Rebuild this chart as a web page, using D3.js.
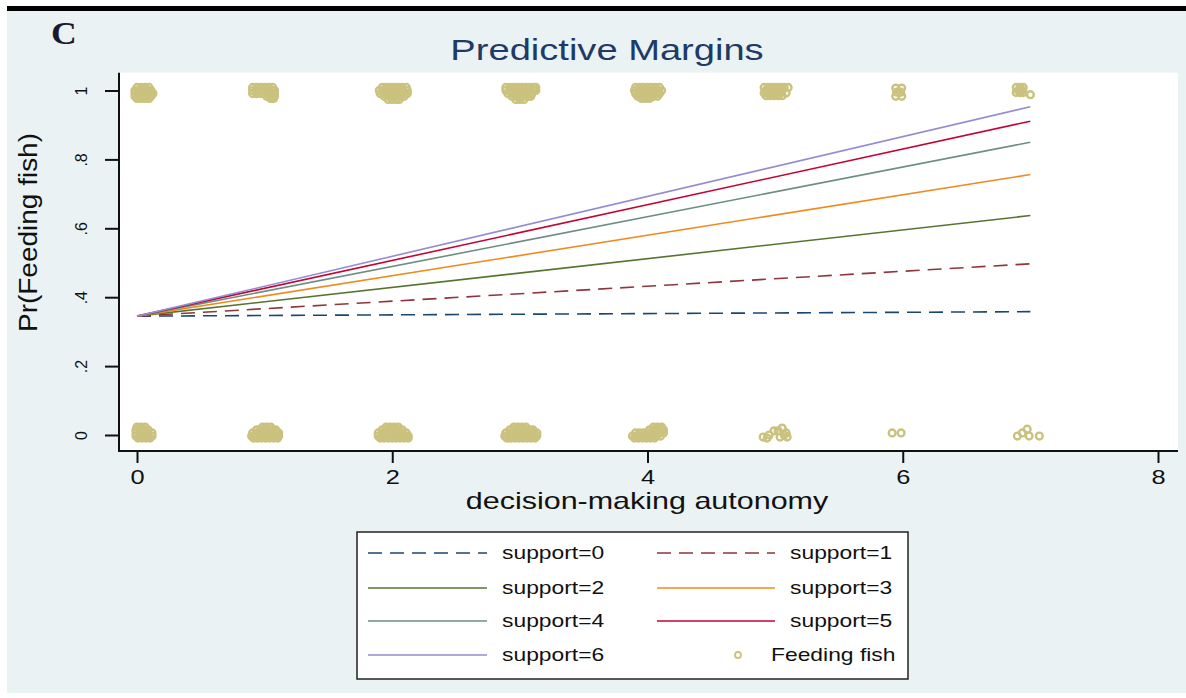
<!DOCTYPE html>
<html>
<head>
<meta charset="utf-8">
<script src="https://cdn.jsdelivr.net/npm/d3@7"></script>
<style>
  body { margin: 0; background: #fff; }
  svg { display: block; }
  text { font-family: "Liberation Sans", Arial, Helvetica, sans-serif; }
</style>
</head>
<body>
<div id="chart"></div>
<script>
// predicted margins, one line per support level, from autonomy 0 to 7
const supportLevels = [0, 1, 2, 3, 4, 5, 6];
const autonomyEnds = [0, 7];
const predAtStart = [0.345, 0.345, 0.345, 0.345, 0.345, 0.345, 0.345];
const predAtEnd = [0.358, 0.497, 0.637, 0.756, 0.850, 0.911, 0.953];

const xTicks = [0, 2, 4, 6, 8];
const yTicks = [0, 0.2, 0.4, 0.6, 0.8, 1];
const yTickLabels = ["0", ".2", ".4", ".6", ".8", "1"];

// jittered observations, rows of [y, x, x, ...]
const feedTopRows = [
  [1.009, 0.0, 0.031, 0.063, 0.094],
  [1.0, -0.016, 0.016, 0.047, 0.078, 0.11],
  [0.991, -0.016, 0.016, 0.047, 0.078, 0.11, 0.125],
  [0.983, -0.016, 0.016, 0.047, 0.078, 0.11],
  [0.977, 0.0, 0.031, 0.063, 0.094],
  [1.009, 0.906, 0.937, 0.969, 1.0, 1.031, 1.063],
  [1.0, 0.906, 0.937, 0.969, 1.0, 1.031, 1.063, 1.078],
  [0.991, 0.906, 0.937, 0.969, 1.0, 1.031, 1.063, 1.078],
  [0.983, 1.016, 1.047, 1.078],
  [0.977, 1.047, 1.07],
  [1.009, 1.922, 1.953, 1.984, 2.016, 2.047, 2.078, 2.11],
  [1.0, 1.898, 1.929, 1.961, 1.992, 2.023, 2.055, 2.086, 2.118],
  [0.991, 1.906, 1.937, 1.969, 2.0, 2.031, 2.063, 2.094, 2.118],
  [0.983, 1.937, 1.969, 2.0, 2.031, 2.063, 2.094],
  [0.974, 1.969, 2.0, 2.031, 2.055],
  [1.009, 2.89, 2.922, 2.953, 2.984, 3.016, 3.047, 3.078, 3.11, 3.125],
  [1.0, 2.89, 2.922, 2.953, 2.984, 3.016, 3.047, 3.078, 3.11, 3.125],
  [0.991, 2.906, 2.937, 2.969, 3.0, 3.031, 3.063, 3.094],
  [0.983, 2.937, 2.969, 3.0, 3.031, 3.063, 3.086],
  [0.974, 2.969, 3.0, 3.031],
  [1.009, 3.906, 3.937, 3.969, 4.0, 4.031, 4.063, 4.094],
  [1.0, 3.898, 3.929, 3.961, 3.992, 4.023, 4.055, 4.086, 4.11],
  [0.991, 3.906, 3.937, 3.969, 4.0, 4.031, 4.063, 4.094],
  [0.983, 3.922, 3.953, 3.984, 4.016, 4.047, 4.078],
  [0.977, 3.953, 3.984, 4.016],
  [1.009, 4.914, 4.945, 4.976, 5.008, 5.039, 5.071, 5.102],
  [1.001, 4.929, 4.961, 4.992, 5.024, 5.055],
  [0.993, 4.914, 4.945, 4.976, 5.008, 5.039, 5.086],
  [0.985, 4.929, 4.961, 4.992, 5.024, 5.055],
  [1.007, 5.945, 5.992],
  [0.995, 5.953, 5.984],
  [0.983, 5.945, 5.992],
  [1.009, 6.889, 6.92, 6.944],
  [1.001, 6.905, 6.932],
  [0.994, 6.889, 6.92, 6.944],
  [0.988, 7.0]
];
const feedBottomRows = [
  [0.023, 0.0, 0.031, 0.063],
  [0.015, -0.008, 0.023, 0.055, 0.086],
  [0.006, -0.008, 0.023, 0.055, 0.086, 0.118],
  [-0.003, -0.008, 0.023, 0.055, 0.086, 0.118],
  [-0.009, 0.008, 0.039, 0.071, 0.102],
  [0.023, 0.984, 1.016, 1.047],
  [0.015, 0.937, 0.969, 1.0, 1.031, 1.063, 1.086],
  [0.006, 0.906, 0.937, 0.969, 1.0, 1.031, 1.063, 1.094, 1.11],
  [-0.003, 0.898, 0.929, 0.961, 0.992, 1.023, 1.055, 1.086, 1.11],
  [-0.009, 0.914, 0.945, 0.976, 1.008, 1.039, 1.071, 1.102],
  [0.023, 1.953, 1.984, 2.016, 2.047],
  [0.015, 1.922, 1.953, 1.984, 2.016, 2.047, 2.078],
  [0.006, 1.89, 1.922, 1.953, 1.984, 2.016, 2.047, 2.078, 2.11],
  [-0.003, 1.89, 1.922, 1.953, 1.984, 2.016, 2.047, 2.078, 2.11, 2.125],
  [-0.009, 1.906, 1.937, 1.969, 2.0, 2.031, 2.063, 2.094, 2.125],
  [0.023, 2.953, 2.984, 3.016, 3.047],
  [0.015, 2.922, 2.953, 2.984, 3.016, 3.047, 3.078, 3.102],
  [0.006, 2.89, 2.922, 2.953, 2.984, 3.016, 3.047, 3.078, 3.11, 3.133],
  [-0.003, 2.882, 2.914, 2.945, 2.976, 3.008, 3.039, 3.071, 3.102, 3.133],
  [-0.009, 2.898, 2.929, 2.961, 2.992, 3.023, 3.055, 3.086, 3.118],
  [0.023, 4.047, 4.078, 4.11],
  [0.015, 4.016, 4.047, 4.078, 4.11, 4.125],
  [0.006, 3.906, 3.937, 3.969, 4.0, 4.031, 4.063, 4.094, 4.125],
  [-0.003, 3.882, 3.914, 3.945, 3.976, 4.008, 4.039, 4.071, 4.102],
  [-0.009, 3.898, 3.929, 3.961, 3.992, 4.023, 4.055],
  [0.02, 5.055],
  [0.012, 4.992, 5.024],
  [0.006, 5.086],
  [0.0, 4.953, 5.071],
  [-0.006, 4.906, 5.039, 5.094],
  [-0.009, 4.937],
  [0.006, 5.917, 5.987],
  [0.017, 6.975],
  [0.006, 6.937],
  [-0.003, 6.898, 6.99, 7.07]
];

// stata s2color-ish styling
const lineColors = ["#1a476f", "#90353b", "#55752f", "#ef8a1f", "#6e8e84", "#c10534", "#938dd2"];
const lineDashes = ["14,8", "14,8", null, null, null, null, null];
const pointColor = "#cac27e";
const bgColor = "#eaf2f3";
const stretch = 1.27; // picture is wider than the fonts

const W = 1186, H = 698;
const plot = { left: 119, right: 1178, top: 72.7, bottom: 451 };

const svg = d3.select("#chart").append("svg")
  .attr("width", W)
  .attr("height", H);

svg.append("rect")
  .attr("x", 7).attr("y", 6)
  .attr("width", W - 7).attr("height", 687)
  .attr("fill", bgColor);
svg.append("rect")
  .attr("x", 7).attr("y", 6)
  .attr("width", W - 7).attr("height", 5)
  .attr("fill", "#000");

svg.append("rect")
  .attr("x", plot.left).attr("y", plot.top)
  .attr("width", plot.right - plot.left)
  .attr("height", plot.bottom - plot.top)
  .attr("fill", "#fff");

const x = d3.scaleLinear().domain([0, 8]).range([137, 1158]);
const y = d3.scaleLinear().domain([0, 1]).range([435, 90.5]);

function addText(str, tx, ty, size, opts = {}) {
  const rot = opts.rotate ? ` rotate(${opts.rotate})` : "";
  const sx = opts.sx == null ? stretch : opts.sx;
  return svg.append("text")
    .attr("transform", `translate(${tx},${ty})${rot} scale(${sx},1)`)
    .attr("text-anchor", opts.anchor || "start")
    .attr("font-size", size)
    .attr("fill", opts.color || "#111")
    .text(str);
}

// panel letter and title
svg.append("text")
  .attr("transform", "translate(51,44) scale(1.15,1)")
  .style("font-family", "'Liberation Serif', 'DejaVu Serif', serif")
  .style("font-weight", "bold")
  .attr("font-size", 31)
  .attr("fill", "#1a1a2e")
  .text("C");
addText("Predictive Margins", 607, 60, 30, { anchor: "middle", color: "#1e3a66" });

// axes
const xAxis = d3.axisBottom(x).tickValues(xTicks).tickSize(12).tickSizeOuter(0);
const gx = svg.append("g").attr("transform", `translate(0,${plot.bottom})`).call(xAxis);
gx.select(".domain").remove();
gx.selectAll(".tick line").attr("stroke", "#111").attr("stroke-width", 2);
gx.selectAll(".tick text")
  .attr("y", 0).attr("dy", 0)
  .attr("transform", `translate(0,33) scale(${stretch},1)`)
  .attr("font-size", 20)
  .attr("font-family", null)
  .attr("fill", "#111");

const yAxis = d3.axisLeft(y).tickValues(yTicks)
  .tickFormat((d, i) => yTickLabels[i]).tickSize(14).tickSizeOuter(0);
const gy = svg.append("g").attr("transform", `translate(${plot.left},0)`).call(yAxis);
gy.select(".domain").remove();
gy.selectAll(".tick line").attr("stroke", "#111").attr("stroke-width", 2);
gy.selectAll(".tick text")
  .attr("x", 0).attr("dy", 0)
  .attr("text-anchor", "middle")
  .attr("transform", "translate(-32,0) rotate(-90)")
  .attr("font-size", 16)
  .attr("font-family", null)
  .attr("fill", "#111");

svg.append("line")
  .attr("x1", plot.left - 1).attr("x2", plot.right)
  .attr("y1", plot.bottom).attr("y2", plot.bottom)
  .attr("stroke", "#111").attr("stroke-width", 2);
svg.append("line")
  .attr("x1", plot.left).attr("x2", plot.left)
  .attr("y1", plot.top).attr("y2", plot.bottom)
  .attr("stroke", "#111").attr("stroke-width", 2);

addText("decision-making autonomy", 647, 509, 24, { anchor: "middle" });
svg.append("text")
  .attr("transform", "translate(37,232.5) rotate(-90)")
  .attr("text-anchor", "middle")
  .attr("font-size", 25)
  .attr("textLength", 199)
  .attr("lengthAdjust", "spacingAndGlyphs")
  .attr("fill", "#111")
  .text("Pr(Feeding fish)");

// observed outcomes
function flattenRows(rows) {
  const pts = [];
  rows.forEach(r => r.slice(1).forEach(v => pts.push([v, r[0]])));
  return pts;
}
const feedPoints = flattenRows(feedTopRows).concat(flattenRows(feedBottomRows));

svg.append("g").selectAll("circle")
  .data(feedPoints)
  .join("circle")
  .attr("cx", d => x(d[0]))
  .attr("cy", d => y(d[1]))
  .attr("r", 3.4)
  .attr("fill", "none")
  .attr("stroke", pointColor)
  .attr("stroke-width", 2.4);

// margin lines
const line = d3.line().x(d => x(d[0])).y(d => y(d[1]));
supportLevels.forEach((s, i) => {
  const pts = [[autonomyEnds[0], predAtStart[i]], [autonomyEnds[1], predAtEnd[i]]];
  svg.append("path")
    .attr("d", line(pts))
    .attr("fill", "none")
    .attr("stroke", lineColors[i])
    .attr("stroke-width", 1.6)
    .attr("stroke-dasharray", lineDashes[i]);
});

// legend
svg.append("rect")
  .attr("x", 357).attr("y", 532)
  .attr("width", 551).attr("height", 147)
  .attr("fill", "#fff")
  .attr("stroke", "#222")
  .attr("stroke-width", 1.5);

const legendRows = [553, 588, 621, 655];
const legendCols = [{ x1: 368, x2: 487, tx: 502 }, { x1: 657, x2: 775, tx: 790 }];

supportLevels.forEach((s, i) => {
  const col = legendCols[i % 2];
  const ly = legendRows[Math.floor(i / 2)];
  svg.append("line")
    .attr("x1", col.x1).attr("x2", col.x2)
    .attr("y1", ly).attr("y2", ly)
    .attr("stroke", lineColors[i])
    .attr("stroke-width", 1.6)
    .attr("stroke-dasharray", lineDashes[i]);
  addText(`support=${s}`, col.tx, ly + 6, 18);
});

svg.append("circle")
  .attr("cx", 738).attr("cy", legendRows[3])
  .attr("r", 3)
  .attr("fill", "none")
  .attr("stroke", pointColor)
  .attr("stroke-width", 1.8);
addText("Feeding fish", 771, legendRows[3] + 6, 18);
</script>
</body>
</html>
